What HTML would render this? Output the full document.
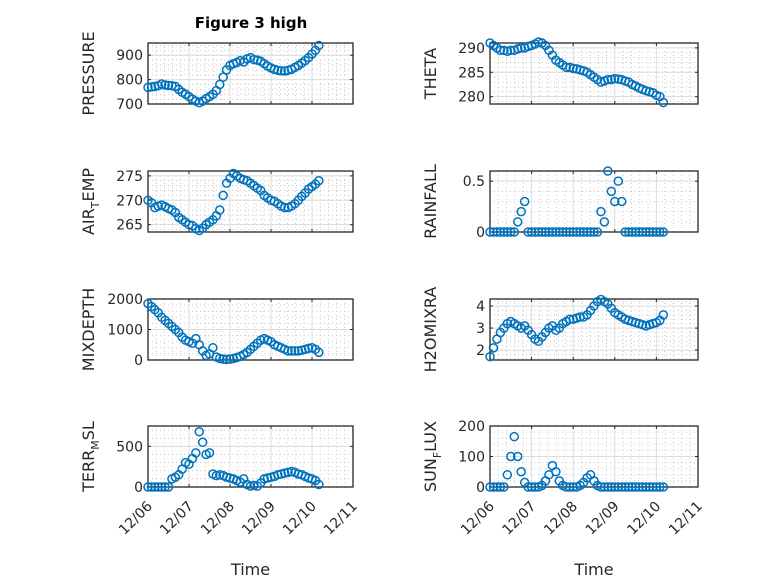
<!DOCTYPE html>
<html><head><meta charset="utf-8"><style>
body{margin:0;background:#fff}
svg{display:block;font-family:"DejaVu Sans","Liberation Sans",sans-serif}
</style></head><body>
<svg id="fig" width="778" height="583" viewBox="0 0 778 583">
<rect width="778" height="583" fill="#fff"/>
<text x="251" y="28" text-anchor="middle" font-size="15" font-weight="bold" fill="#000">Figure 3 high</text>
</svg>
<script>
const hours=[0,2,4,6,8,10,12,14,16,18,20,22,24,26,28,30,32,34,36,38,40,42,44,46,48,50,52,54,56,58,60,62,64,66,68,70,72,74,76,78,80,82,84,86,88,90,92,94,96,98,100];
const xTickLabels=["12/06","12/07","12/08","12/09","12/10","12/11"];
const pressure=[768,770,772,775,782,778,776,775,772,760,748,740,730,720,712,705,712,722,730,740,755,780,810,840,858,865,870,878,872,885,890,882,880,875,865,855,848,842,838,836,835,838,842,850,858,868,878,890,905,920,940];
const pressureTicks=[700,800,900];
const theta=[291,290.5,290,289.5,289.5,289.3,289.5,289.5,289.8,290,290,290.3,290.5,290.8,291.2,291,290.5,289.5,288.5,287.5,287,286.5,286,286,285.8,285.7,285.5,285.3,285,284.5,284,283.5,283,283.2,283.5,283.5,283.7,283.6,283.5,283.2,283,282.5,282.2,281.8,281.5,281.2,281,280.8,280.3,280,278.8];
const thetaTicks=[280,285,290];
const airTemp=[270,269.5,268.5,268.8,269,268.7,268.3,268,267.5,266.5,266,265.5,265,264.8,264.2,263.8,264.3,265,265.5,266,266.8,268,271,273.5,274.5,275.5,275,274.5,274.2,274,273.5,273,272.5,272,271,270.5,270,269.8,269.3,268.8,268.5,268.5,268.8,269.3,270,270.8,271.5,272.3,272.8,273.3,274];
const airTempTicks=[265,270,275];
const rainfall=[0,0,0,0,0,0,0,0,0.1,0.2,0.3,0,0,0,0,0,0,0,0,0,0,0,0,0,0,0,0,0,0,0,0,0,0.2,0.1,0.6,0.4,0.3,0.5,0.3,0,0,0,0,0,0,0,0,0,0,0,0];
const rainfallTicks=[0,0.5];
const mixDepth=[1850,1750,1650,1550,1400,1300,1200,1100,1000,900,750,650,600,550,700,500,300,150,200,400,100,50,30,20,30,50,80,120,180,250,350,450,550,650,700,650,600,500,450,400,350,300,300,300,300,320,350,380,400,350,250];
const mixDepthTicks=[0,1000,2000];
const h2o=[1.7,2.1,2.5,2.8,3.0,3.2,3.3,3.2,3.1,3.0,3.1,2.9,2.7,2.5,2.4,2.6,2.8,3.0,3.1,2.9,3.0,3.2,3.3,3.4,3.4,3.45,3.5,3.5,3.6,3.8,4.0,4.2,4.3,4.2,4.1,3.9,3.7,3.6,3.5,3.4,3.35,3.3,3.25,3.2,3.15,3.1,3.15,3.2,3.25,3.35,3.6];
const h2oTicks=[2,3,4];
const terrMsl=[0,0,0,0,0,0,0,100,120,150,220,300,280,350,420,680,550,400,420,160,140,150,140,120,110,100,80,60,100,30,10,20,10,50,100,110,120,130,150,160,170,180,190,180,160,150,130,110,100,80,30];
const terrTicks=[0,500];
const sunFlux=[0,0,0,0,0,40,100,165,100,50,15,0,0,0,0,5,20,40,70,50,20,5,0,0,0,0,5,15,30,40,20,5,0,0,0,0,0,0,0,0,0,0,0,0,0,0,0,0,0,0,0];
const sunTicks=[0,100,200];

const NS="http://www.w3.org/2000/svg";
const svg=document.getElementById('fig');
function mk(tag,attrs,parent){const e=document.createElementNS(NS,tag);for(const k in attrs)e.setAttribute(k,attrs[k]);(parent||svg).appendChild(e);return e;}

const cols=[{l:148,r:353},{l:490,r:698}];
const rowsTop=[43,171,299,426];
const H=61;

function panel(name,col,row,vals,ylim,ticks,labelParts,showX){
  const L=cols[col].l,R=cols[col].r,T=rowsTop[row],B=T+H;
  const g=mk('g',{});
  
  
  const xs=h=>L+(h/24)/5*(R-L);
  const ys=v=>B-(v-ylim[0])/(ylim[1]-ylim[0])*H;
  for(let d=0;d<5;d++)for(let k=1;k<5;k++){const x=L+(d+k/5)/5*(R-L);mk('line',{x1:x,x2:x,y1:T,y2:B,stroke:'#c8c8c8','stroke-width':1,'stroke-dasharray':'1 3'},g);}
  const yStep=ticks.length>1?ticks[1]-ticks[0]:1;
  for(let v=ticks[0]-yStep;v<=ylim[1]+yStep;v+=yStep/5){const y=ys(v);if(y>T&&y<B)mk('line',{x1:L,x2:R,y1:y,y2:y,stroke:'#c8c8c8','stroke-width':1,'stroke-dasharray':'1 3'},g);}
  for(let d=1;d<5;d++){const x=L+d/5*(R-L);mk('line',{x1:x,x2:x,y1:T,y2:B,stroke:'#dcdcdc','stroke-width':1},g);}
  ticks.forEach(v=>{const y=ys(v);mk('line',{x1:L,x2:R,y1:y,y2:y,stroke:'#dcdcdc','stroke-width':1},g);
    mk('line',{x1:L,x2:L+3,y1:y,y2:y,stroke:'#262626'},g);mk('line',{x1:R,x2:R-3,y1:y,y2:y,stroke:'#262626'},g);
    const t=mk('text',{x:L-5,y:y+5,'text-anchor':'end','font-size':14,fill:'#262626'},g);t.textContent=String(v);
    
    });
  for(let d=0;d<=5;d++){const x=L+d/5*(R-L);mk('line',{x1:x,x2:x,y1:B,y2:B-3,stroke:'#262626'},g);mk('line',{x1:x,x2:x,y1:T,y2:T+3,stroke:'#262626'},g);
    if(showX){const t=mk('text',{x:x+5,y:B+20,'text-anchor':'end','font-size':14,fill:'#262626',transform:`rotate(-45 ${x+5} ${B+20})`},g);t.textContent=xTickLabels[d];
      
      }}
  mk('rect',{x:L,y:T,width:R-L,height:H,fill:'none',stroke:'#262626','stroke-width':1.3},g);
  vals.forEach((v,i)=>{const c=mk('circle',{cx:xs(hours[i]),cy:ys(v),r:4,fill:'none',stroke:'#0072BD','stroke-width':1.5},g);
    
    });
  const lx=col===0?94:436, ly=T+H/2;
  const t=mk('text',{x:lx,y:ly,'text-anchor':'middle','font-size':16,fill:'#262626',transform:`rotate(-90 ${lx} ${ly})`},g);
  
  
  labelParts.forEach(p=>{const s=mk('tspan',p.sub?{'font-size':11,dy:5}:{dy:p.after?-5:0},t);s.textContent=p.t;});
  if(showX){const xt=mk('text',{x:(L+R)/2,y:575,'text-anchor':'middle','font-size':16,fill:'#262626'},g);xt.textContent='Time';
    
    }
}
panel('pressure',0,0,pressure,[700,950],pressureTicks,[{t:'PRESSURE'}],false);
panel('theta',1,0,theta,[278.5,291],thetaTicks,[{t:'THETA'}],false);
panel('air-temp',0,1,airTemp,[263.5,276],airTempTicks,[{t:'AIR'},{t:'T',sub:1},{t:'EMP',after:1}],false);
panel('rainfall',1,1,rainfall,[0,0.6],rainfallTicks,[{t:'RAINFALL'}],false);
panel('mixdepth',0,2,mixDepth,[0,2000],mixDepthTicks,[{t:'MIXDEPTH'}],false);
panel('h2omixra',1,2,h2o,[1.55,4.32],h2oTicks,[{t:'H2OMIXRA'}],false);
panel('terr-msl',0,3,terrMsl,[0,750],terrTicks,[{t:'TERR'},{t:'M',sub:1},{t:'SL',after:1}],true);
panel('sun-flux',1,3,sunFlux,[0,200],sunTicks,[{t:'SUN'},{t:'F',sub:1},{t:'LUX',after:1}],true);
</script>
</body></html>
